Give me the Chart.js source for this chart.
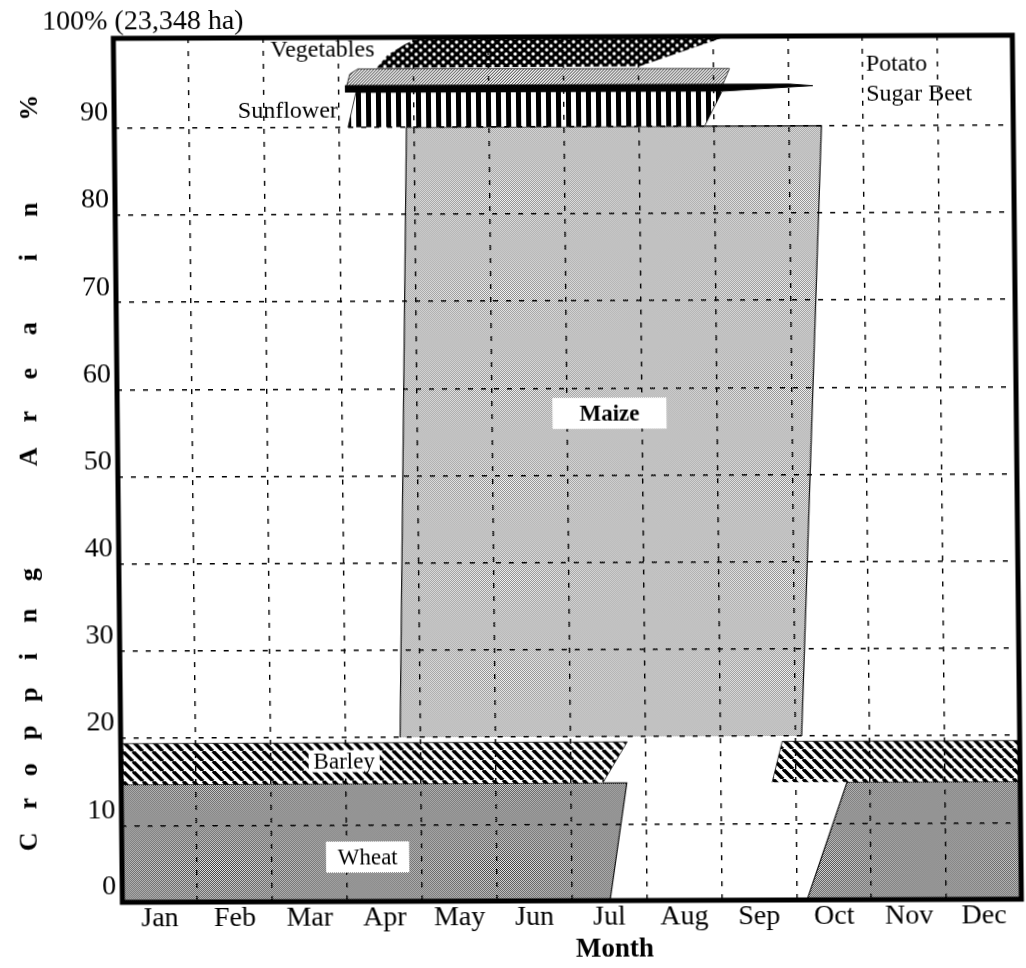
<!DOCTYPE html>
<html><head><meta charset="utf-8">
<script src="https://cdn.jsdelivr.net/npm/chart.js@4"></script>
<style>
html,body{margin:0;padding:0;background:#fff;}
#wrap{width:1026px;height:968px;position:relative;overflow:hidden;}
canvas{display:block;transform:skew(0.6deg,-0.2deg);transform-origin:513px 484px;}
</style></head>
<body><div id="wrap"><canvas id="c" width="1026" height="968"></canvas></div>
<script>
// ---- data (x = month position 0..12, y = % of cropping area) ----
const months = ['Jan','Feb','Mar','Apr','May','Jun','Jul','Aug','Sep','Oct','Nov','Dec'];
const monthTickPos = [0.5,1.5,2.5,3.5,4.5,5.5,6.5,7.5,8.5,9.5,10.5,11.5];
const yMin = 1.2, yMax = 100.3;
const yTickValues = [1.2,10,20,30,40,50,60,70,80,90];
const yTickLabels = ['0','10','20','30','40','50','60','70','80','90'];

const wheatSpring = [[0,1.2],[0,14.7],[6.75,14.7],[6.51,1.2]];
const wheatAutumn = [[9.14,1.2],[9.69,14.7],[12,14.7],[12,1.2]];
const barleySpring = [[0,14.7],[0,19.4],[6.76,19.4],[6.43,14.7]];
const barleyAutumn = [[8.69,14.7],[8.83,19.4],[12,19.4],[12,14.7]];
const maize = [[3.73,20.0],[3.90,90.0],[9.44,90.0],[9.09,20.0]];
const sunflower = [[3.12,90.0],[3.23,94.0],[8.12,94.0],[7.88,90.0]];
const sugarBeet = [[3.09,94.0],[3.09,94.8],[9.02,94.8],[9.33,94.6],[8.12,94.0]];
const potato = [[3.11,94.8],[3.15,96.1],[3.26,96.7],[8.22,96.6],[8.13,94.8]];
const vegetables = [[3.51,96.8],[3.66,98.3],[3.89,99.5],[4.09,100.3],[8.19,100.3],[7.02,96.9],[3.51,96.8]];

// crop name labels [text, month, %]
const cropLabels = [
  ['Vegetables', 2.79, 98.8, 'plain'],
  ['Sunflower', 2.32, 91.9, 'plain'],
  ['Potato', 10.04, 97.0, 'left'],
  ['Sugar Beet', 10.04, 93.6, 'left'],
  ['Maize', 6.57, 57.1, 'box'],
  ['Barley', 2.98, 17.3, 'boxsmall'],
  ['Wheat', 3.28, 6.3, 'box']
];
const yTitleLetters = [['C',840],['r',802],['o',768],['p',731],['p',693],['i',655],['n',614],['g',573],
  ['A',455],['r',415],['e',372],['a',327],['i',256],['n',208],['%',106]];

// ---- patterns ----
const canvas = document.getElementById('c');
const ctx = canvas.getContext('2d');
function pattern(w,h,draw){const c=document.createElement('canvas');c.width=w;c.height=h;const g=c.getContext('2d');draw(g,w,h);return ctx.createPattern(c,'repeat');}
const pWheat = pattern(2,2,(g)=>{g.fillStyle='#ececec';g.fillRect(0,0,2,2);g.fillStyle='#3c3c3c';g.fillRect(0,0,1,1);g.fillRect(1,1,1,1);});
const pMaize = pattern(2,2,(g)=>{g.fillStyle='#f6f6f6';g.fillRect(0,0,2,2);g.fillStyle='#8c8c8c';g.fillRect(0,0,1,1);g.fillRect(1,1,1,1);});
const pBarley = pattern(10,10,(g,w)=>{g.fillStyle='#fff';g.fillRect(0,0,w,w);g.strokeStyle='#000';g.lineWidth=3.6;for(let k=-1;k<=1;k++){g.beginPath();g.moveTo(k*w,0);g.lineTo(k*w+w,w);g.stroke();}});
const pSun = pattern(10,4,(g)=>{g.fillStyle='#fff';g.fillRect(0,0,10,4);g.fillStyle='#000';g.fillRect(0,0,5,4);});
const pPotato = pattern(3,3,(g)=>{g.fillStyle='#f4f4f4';g.fillRect(0,0,3,3);g.fillStyle='#333';g.fillRect(2,0,1,1);g.fillRect(1,1,1,1);g.fillRect(0,2,1,1);});
const pVeg = pattern(9,8,(g)=>{g.fillStyle='#000';g.fillRect(0,0,9,8);g.fillStyle='#fff';g.beginPath();g.arc(2.2,2,1.7,0,Math.PI*2);g.fill();g.beginPath();g.arc(6.7,6,1.7,0,Math.PI*2);g.fill();});

function ds(points, bg, bw, order){
  return {data: points.map(p=>({x:p[0],y:p[1]})), showLine:true, fill:'shape', backgroundColor:bg,
    borderColor:'#111', borderWidth:bw, pointRadius:0, tension:0, order:order};
}
const datasets = [
  ds(sugarBeet,'#000',1,0),
  ds(vegetables,pVeg,0,1),
  ds(potato,pPotato,0.8,2),
  ds(sunflower,pSun,0.8,3),
  ds(maize,pMaize,1.2,4),
  ds(barleySpring,pBarley,0.8,5),
  ds(barleyAutumn,pBarley,0.8,5),
  ds(wheatSpring,pWheat,1.2,6),
  ds(wheatAutumn,pWheat,1.2,6)
];

const SERIF = "'Liberation Serif', 'Times New Roman', serif";
Chart.defaults.font.family = SERIF;
Chart.defaults.color = '#000';

const overlay = {
  id:'overlay',
  afterDraw(chart){
    const c = chart.ctx, a = chart.chartArea, xs = chart.scales.x, ys = chart.scales.y;
    c.save();
    // frame
    c.strokeStyle='#000'; c.lineWidth=5;
    c.strokeRect(a.left, a.top, a.right-a.left, a.bottom-a.top);
    // crop labels
    c.textBaseline='middle';
    for(const [t,mx,py,kind] of cropLabels){
      const x = xs.getPixelForValue(mx), y = ys.getPixelForValue(py);
      if(kind==='box' || kind==='boxsmall'){
        c.font = 'bold 23px '+SERIF;
        const w = c.measureText(t).width;
        const bw = kind==='box' ? (t==='Maize'? 114 : w+18) : w+6;
        const bh = kind==='box' ? 31 : 22;
        c.fillStyle='#fff'; c.fillRect(x-bw/2, y-bh/2, bw, bh);
        c.fillStyle='#000'; c.textAlign='center';
        c.font = (t==='Maize'?'bold ':'') + '23px '+SERIF;
        c.fillText(t, x, y+1);
      } else {
        c.font = '24px '+SERIF; c.fillStyle='#000';
        c.textAlign = kind==='left' ? 'left' : 'center';
        c.fillText(t, x, y);
      }
    }
    // top note
    c.font = '28px '+SERIF; c.textAlign='left'; c.fillStyle='#000';
    c.fillText('100% (23,348 ha)', 47, 21);
    // x axis title
    c.font = 'bold 27px '+SERIF; c.textAlign='center';
    c.fillText('Month', 610, 950);
    // y axis title, letter by letter rotated
    c.font = 'bold 26px '+SERIF;
    for(const [ch,yy] of yTitleLetters){
      c.save(); c.translate(30 - 0.0105*(yy-484), yy); c.rotate(-Math.PI/2);
      c.textAlign='center'; c.fillText(ch,0,0); c.restore();
    }
    c.restore();
  }
};

new Chart(ctx, {
  type:'scatter',
  data:{datasets},
  options:{
    responsive:false, animation:false, devicePixelRatio:1,
    layout:{padding:{top:37,right:9,left:0,bottom:0}},
    plugins:{legend:{display:false}, tooltip:{enabled:false}},
    scales:{
      x:{type:'linear', min:0, max:12,
        grid:{offset:true, color:'#000', lineWidth:1.4, z:1, drawTicks:false},
        border:{display:false, dash:[5,8]},
        afterBuildTicks:(s)=>{s.ticks = monthTickPos.map(v=>({value:v}));},
        afterFit:(s)=>{s.height = 67;},
        ticks:{autoSkip:false, maxRotation:0, padding:0, font:{size:28}, color:'#000',
          callback:(v,i)=>months[i]}
      },
      y:{type:'linear', min:yMin, max:yMax,
        grid:{color:(c)=> (c.tick && (c.tick.value<5 || c.tick.value>95)) ? 'rgba(0,0,0,0)' : '#000', lineWidth:1.4, z:1, drawTicks:false},
        border:{display:false, dash:[5,8]},
        afterBuildTicks:(s)=>{s.ticks = yTickValues.map(v=>({value:v}));},
        afterFit:(s)=>{s.width = 118;},
        ticks:{autoSkip:false, padding:6, labelOffset:-15, font:{size:28}, color:'#000',
          callback:(v,i)=>yTickLabels[i]}
      }
    }
  },
  plugins:[overlay]
});
</script>
</body></html>
